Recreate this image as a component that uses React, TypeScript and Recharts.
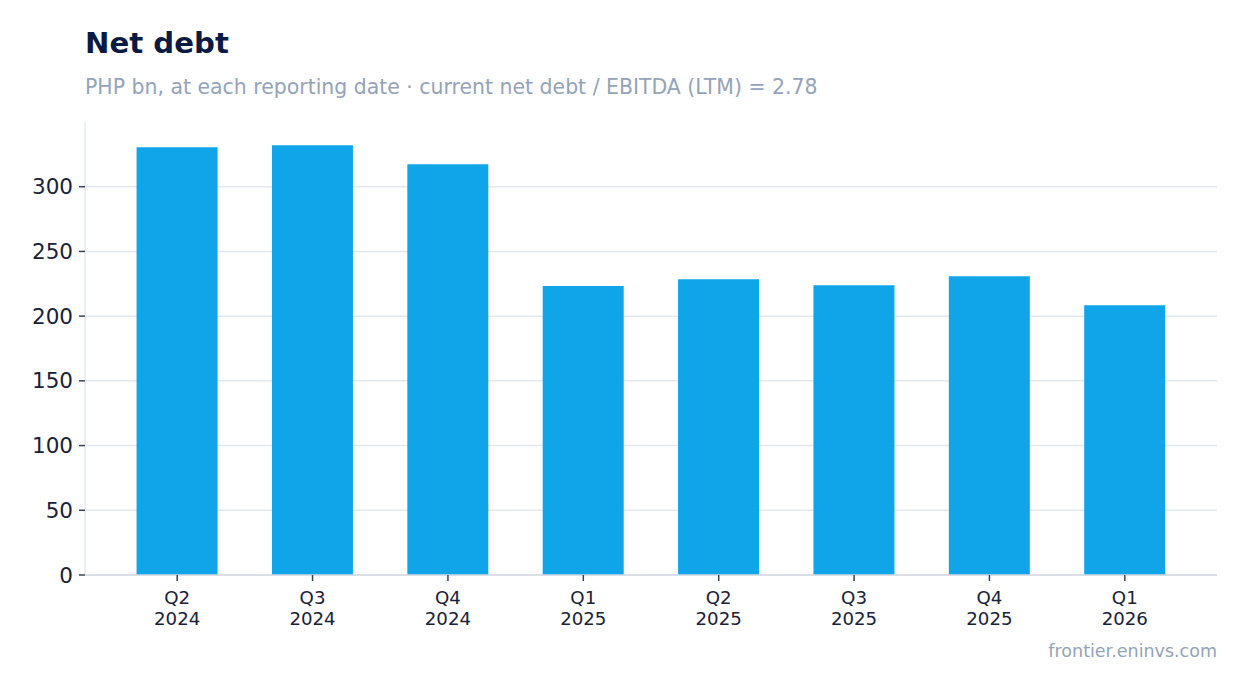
import React from "react";
import { BarChart, Bar, XAxis, YAxis, CartesianGrid } from "recharts";

const quarters = ["Q2", "Q3", "Q4", "Q1", "Q2", "Q3", "Q4", "Q1"];
const years = ["2024", "2024", "2024", "2025", "2025", "2025", "2025", "2026"];
const netDebt = [330.5, 332.0, 317.4, 223.2, 228.6, 223.9, 230.9, 208.5];
const yTicks = [0, 50, 100, 150, 200, 250, 300];

const data = quarters.map((q, i) => ({
  key: `${q} ${years[i]}`,
  q,
  year: years[i],
  value: netDebt[i],
}));

const FONT = "'DejaVu Sans', sans-serif";

const XTick = (props: any) => {
  const { x, y, payload, index } = props;
  const d = data[index] ?? data.find((e) => e.key === payload.value);
  return (
    <text x={x} y={y} textAnchor="middle" fill="#1a2236" fontSize={18.2} fontFamily={FONT}>
      <tspan x={x} dy={20.5}>{d ? d.q : ""}</tspan>
      <tspan x={x} dy={21.3}>{d ? d.year : ""}</tspan>
    </text>
  );
};

const gridGen = (props: any) => {
  const yAxis = props?.yAxis;
  if (yAxis && typeof yAxis.scale === "function") {
    return yTicks.map((t) => yAxis.scale(t));
  }
  if (yAxis && yAxis.scale && typeof yAxis.scale.map === "function") {
    return yTicks.map((t) => yAxis.scale.map(t));
  }
  return [];
};

export default function App() {
  return (
    <div
      style={{
        position: "absolute",
        top: 0,
        left: 0,
        width: 1247,
        height: 693,
        background: "#ffffff",
        fontFamily: FONT,
        overflow: "hidden",
      }}
    >
      <div
        style={{
          position: "absolute",
          left: 85,
          top: 54 - 29.2 * 0.846,
          fontSize: 29.2,
          lineHeight: "29.2px",
          fontWeight: 700,
          color: "#0b1a42",
          whiteSpace: "nowrap",
        }}
      >
        Net debt
      </div>
      <div
        style={{
          position: "absolute",
          left: 85,
          top: 94.5 - 20.45 * 0.846,
          fontSize: 20.45,
          lineHeight: "20.45px",
          color: "#94a3b8",
          whiteSpace: "nowrap",
        }}
      >
        PHP bn, at each reporting date · current net debt / EBITDA (LTM) = 2.78
      </div>
      <div style={{ position: "absolute", left: 0, top: 0 }}>
        <BarChart
          width={1247}
          height={693}
          data={data}
          margin={{ top: 122, right: 30, bottom: 58, left: 25 }}
          barCategoryGap="20%"
        >
          <CartesianGrid
            vertical={false}
            stroke="#e3e8ef"
            strokeWidth={1.5}
            horizontalCoordinatesGenerator={gridGen}
          />
          <XAxis
            dataKey="key"
            height={60}
            interval={0}
            padding={{ left: 24.5, right: 24.5 }}
            axisLine={{ stroke: "#d4dae3", strokeWidth: 1.5 }}
            tickLine={{ stroke: "#3b4252", strokeWidth: 1.5 }}
            tickSize={6}
            tickMargin={2}
            tick={<XTick />}
          />
          <YAxis
            width={60}
            domain={[0, 350]}
            ticks={yTicks}
            allowDataOverflow
            axisLine={{ stroke: "#e5e9f0", strokeWidth: 1.5 }}
            tickLine={{ stroke: "#3b4252", strokeWidth: 1.5 }}
            tickSize={6}
            tickMargin={6}
            tick={{ fill: "#1a2236", fontSize: 21.5, fontFamily: FONT }}
          />
          <Bar dataKey="value" fill="#10a5e8" isAnimationActive={false} />
        </BarChart>
      </div>
      <div
        style={{
          position: "absolute",
          right: 30,
          top: 658 - 17.5 * 0.846,
          fontSize: 17.5,
          lineHeight: "17.5px",
          color: "#94a3b8",
          whiteSpace: "nowrap",
        }}
      >
        frontier.eninvs.com
      </div>
    </div>
  );
}
